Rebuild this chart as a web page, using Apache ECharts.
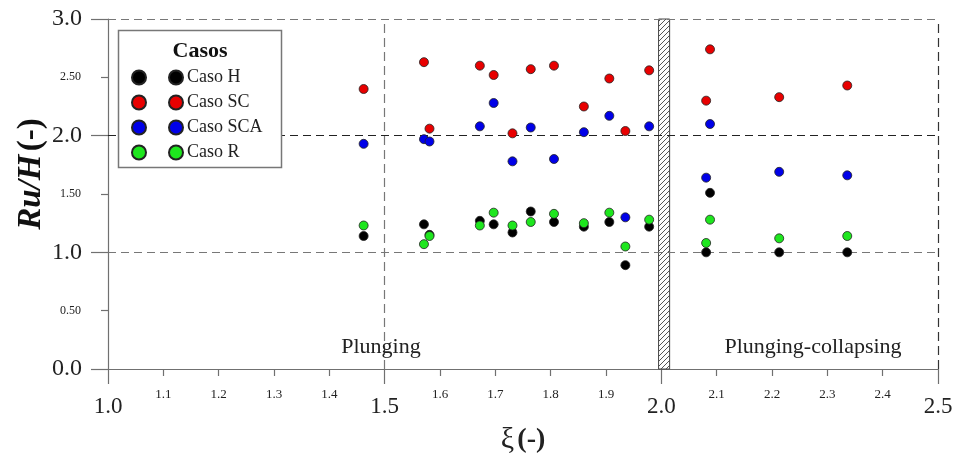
<!DOCTYPE html>
<html>
<head>
<meta charset="utf-8">
<script src="https://cdn.jsdelivr.net/npm/echarts@6/dist/echarts.min.js"></script>
<style>html,body{margin:0;padding:0;background:#fff}#c{width:956px;height:464px}</style>
</head>
<body>
<div id="c"></div>
<script>
// ---- data ----
const xi      = [1.462, 1.571, 1.581, 1.672, 1.697, 1.731, 1.764, 1.806, 1.860, 1.906, 1.935, 1.978, 2.081, 2.088, 2.213, 2.336];
const casoH   = [1.14, 1.24, 1.15, 1.27, 1.24, 1.17, 1.35, 1.26, 1.22, 1.26, 0.89, 1.22, 1.00, 1.51, 1.00, 1.00];
const casoSC  = [2.40, 2.63, 2.06, 2.60, 2.52, 2.02, 2.57, 2.60, 2.25, 2.49, 2.04, 2.56, 2.30, 2.74, 2.33, 2.43];
const casoSCA = [1.93, 1.97, 1.95, 2.08, 2.28, 1.78, 2.07, 1.80, 2.03, 2.17, 1.30, 2.08, 1.64, 2.10, 1.69, 1.66];
const casoR   = [1.23, 1.07, 1.14, 1.23, 1.34, 1.23, 1.26, 1.33, 1.25, 1.34, 1.05, 1.28, 1.08, 1.28, 1.12, 1.14];
const seriesNames = ['Caso H', 'Caso SC', 'Caso SCA', 'Caso R'];
const seriesColors = ['#000000', '#e80000', '#0000e8', '#1ee61e'];
const refY = [1, 2, 3];
const refX = [1.5, 2.5];
const barX = [1.995, 2.015];
const regionLabels = ['Plunging', 'Plunging-collapsing'];

const FONT = "'Liberation Serif', 'Times New Roman', serif";
const chart = echarts.init(document.getElementById('c'), null, {renderer: 'canvas'});

// hatch pattern
const pc = document.createElement('canvas');
pc.width = 5; pc.height = 5;
const pctx = pc.getContext('2d');
pctx.fillStyle = '#fff'; pctx.fillRect(0, 0, 5, 5);
pctx.strokeStyle = '#444'; pctx.lineWidth = 0.9;
pctx.beginPath();
pctx.moveTo(0, 5); pctx.lineTo(5, 0);
pctx.moveTo(-1, 1); pctx.lineTo(1, -1);
pctx.moveTo(4, 6); pctx.lineTo(6, 4);
pctx.stroke();

const isMajor = (v, step) => Math.abs(v / step - Math.round(v / step)) < 1e-6;
const allVals = [casoH, casoSC, casoSCA, casoR];

const series = allVals.map((vals, i) => ({
  type: 'scatter',
  name: seriesNames[i],
  z: 3,
  symbol: 'circle',
  symbolSize: 9,
  itemStyle: {color: seriesColors[i], borderColor: '#222', borderWidth: 0.8, opacity: 1},
  data: xi.map((x, k) => [x, vals[k]])
}));

series.unshift({
  type: 'scatter',
  name: '_ref',
  data: [],
  silent: true,
  z: 1,
  markLine: {
    silent: true, z: 1, symbol: ['none', 'none'], label: {show: false},
    animation: false,
    data: [
      ...refY.map(v => ({yAxis: v, lineStyle: {color: v === 2 ? '#222' : '#777', type: [8, 5], width: 1.2}})),
      ...refX.map(v => ({xAxis: v, lineStyle: {color: v === 2.5 ? '#333' : '#777', type: [9, 5], width: 1.2}}))
    ]
  },
  markArea: {
    silent: true, z: 1,
    itemStyle: {color: {image: pc, repeat: 'repeat'}, borderColor: '#444', borderWidth: 1},
    data: [[{xAxis: barX[0], yAxis: 0}, {xAxis: barX[1], yAxis: 3}]]
  }
});

const legendData = seriesNames.map(n => ({name: n}));
const legendCommon = {
  data: legendData, orient: 'vertical', top: 68.5, padding: 0,
  itemWidth: 14, itemHeight: 14, itemGap: 7, icon: 'circle', selectedMode: false, z: 6
};

chart.setOption({
  animation: false,
  backgroundColor: '#fff',
  grid: {left: 108, right: 18, top: 19, bottom: 95, containLabel: false},
  xAxis: [
    {
      type: 'value', min: 1, max: 2.5, interval: 0.5, position: 'bottom',
      axisLine: {show: true, onZero: false, lineStyle: {color: '#707070', width: 1.2}},
      axisTick: {show: true, length: 15, lineStyle: {color: '#707070', width: 1.2}},
      minorTick: {show: true, splitNumber: 5, length: 7, lineStyle: {color: '#707070', width: 1.2}},
      splitLine: {show: false},
      axisLabel: {margin: 26, fontFamily: FONT, fontSize: 23, color: '#222', formatter: v => v.toFixed(1)}
    },
    {
      type: 'value', min: 1, max: 2.5, interval: 0.1, position: 'bottom',
      axisLine: {show: false}, axisTick: {show: false}, splitLine: {show: false},
      axisLabel: {margin: 19, fontFamily: FONT, fontSize: 13, color: '#222',
        formatter: v => isMajor(v, 0.5) ? '' : v.toFixed(1)}
    }
  ],
  yAxis: [
    {
      type: 'value', min: 0, max: 3, interval: 1, position: 'left',
      axisLine: {show: true, onZero: false, lineStyle: {color: '#707070', width: 1.2}},
      axisTick: {show: true, length: 17, lineStyle: {color: '#707070', width: 1.2}},
      minorTick: {show: true, splitNumber: 2, length: 7, lineStyle: {color: '#707070', width: 1.2}},
      splitLine: {show: false},
      axisLabel: {margin: 26, fontFamily: FONT, fontSize: 24, color: '#222', formatter: v => v.toFixed(1)}
    },
    {
      type: 'value', min: 0, max: 3, interval: 0.5, position: 'left',
      axisLine: {show: false}, axisTick: {show: false}, splitLine: {show: false},
      axisLabel: {margin: 27, fontFamily: FONT, fontSize: 12, color: '#222',
        formatter: v => isMajor(v, 1) ? '' : v.toFixed(2)}
    }
  ],
  legend: [
    Object.assign({}, legendCommon, {
      left: 168,
      textStyle: {fontFamily: FONT, fontSize: 18, color: '#222', padding: [0, 0, 0, -1]}
    }),
    Object.assign({}, legendCommon, {
      left: 131,
      textStyle: {fontFamily: FONT, fontSize: 18, color: 'rgba(0,0,0,0)', padding: [0, 0, 0, -1]}
    })
  ],
  graphic: [
    {type: 'rect', z: 5, shape: {x: 118.5, y: 30.5, width: 163, height: 137},
      style: {fill: '#fff', stroke: '#777', lineWidth: 1.5}},
    {type: 'text', z: 7, x: 200, y: 51,
      style: {text: 'Casos', fontFamily: FONT, fontSize: 22, fontWeight: 'bold', fill: '#111', align: 'center', verticalAlign: 'middle'}},
    {type: 'text', z: 7, x: 381, y: 347,
      style: {text: regionLabels[0], fontFamily: FONT, fontSize: 22, fill: '#222', align: 'center', verticalAlign: 'middle'}},
    {type: 'text', z: 7, x: 813, y: 347,
      style: {text: regionLabels[1], fontFamily: FONT, fontSize: 22, fill: '#222', align: 'center', verticalAlign: 'middle'}},
    {type: 'text', z: 7, x: 523, y: 440,
      style: {rich: {a: {fontFamily: FONT, fontSize: 30, fill: '#222'}, b: {fontFamily: FONT, fontSize: 28, fontWeight: 'bold', fill: '#222'}},
        text: '{a|ξ} {b|(-)}', align: 'center', verticalAlign: 'middle'}},
    {type: 'text', z: 7, x: 31, y: 174, rotation: Math.PI / 2,
      style: {rich: {a: {fontFamily: FONT, fontSize: 33, fontWeight: 'bold', fontStyle: 'italic', fill: '#111'},
                     b: {fontFamily: FONT, fontSize: 33, fontWeight: 'bold', fill: '#111'}},
        text: '{a|Ru/H} {b|(-)}', align: 'center', verticalAlign: 'middle'}}
  ],
  series: series
});
</script>
</body>
</html>
